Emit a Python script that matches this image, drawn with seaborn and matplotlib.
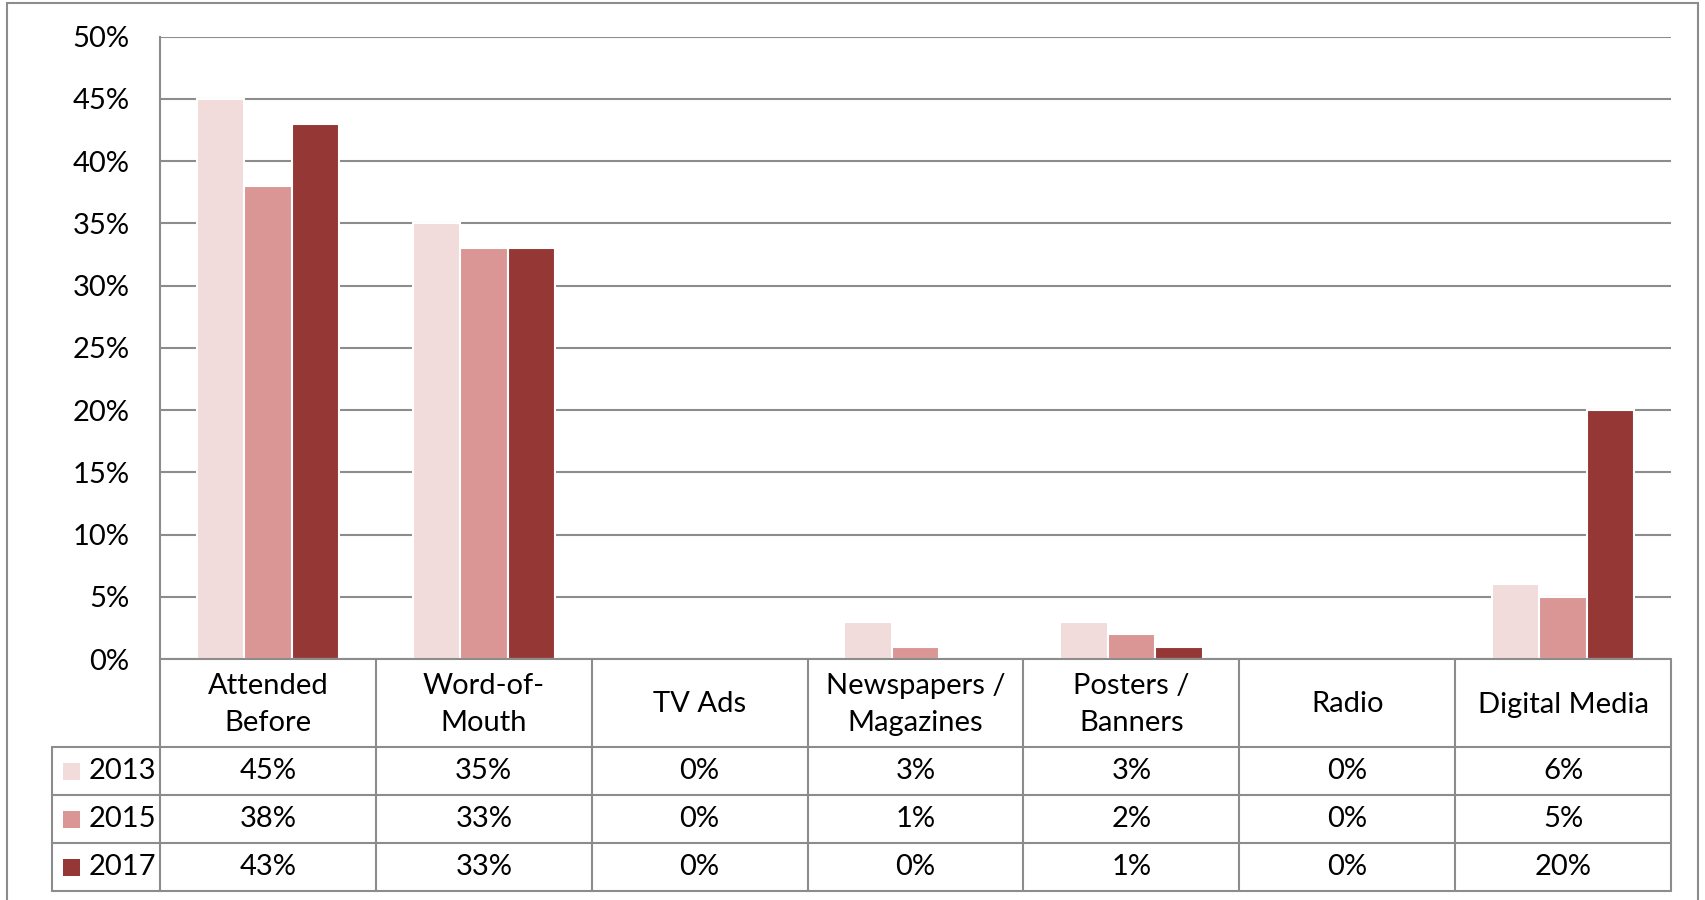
import matplotlib
matplotlib.use("Agg")
import matplotlib.pyplot as plt
import seaborn as sns
import pandas as pd
from matplotlib.transforms import blended_transform_factory
from matplotlib.lines import Line2D
from matplotlib.patches import Rectangle

categories = ["Attended\nBefore", "Word-of-\nMouth", "TV Ads", "Newspapers /\nMagazines",
              "Posters /\nBanners", "Radio", "Digital Media"]
years = ["2013", "2015", "2017"]
values_2013 = [45, 35, 0, 3, 3, 0, 6]
values_2015 = [38, 33, 0, 1, 2, 0, 5]
values_2017 = [43, 33, 0, 0, 1, 0, 20]
colors = ["#F2DCDB", "#D99694", "#953735"]
yticks = [0, 5, 10, 15, 20, 25, 30, 35, 40, 45, 50]

series = {"2013": values_2013, "2015": values_2015, "2017": values_2017}
rows = []
for y in years:
    for c, v in zip(categories, series[y]):
        rows.append({"category": c, "year": y, "value": v / 100})
df = pd.DataFrame(rows)

sns.set_theme(style="white")
plt.rcParams['font.family'] = ['Lato', 'DejaVu Sans']

FS = 21
W, H = 1706, 900
fig = plt.figure(figsize=(W / 100, H / 100), dpi=100)
fig.patch.set_facecolor("white")

left, right, top, bottom = 160, 1671, 36.7, 659
ax = fig.add_axes([left / W, 1 - bottom / H, (right - left) / W, (bottom - top) / H])

sns.barplot(data=df, x="category", y="value", hue="year", palette=colors,
            width=0.66, edgecolor="white", linewidth=1.5, ax=ax, legend=False,
            saturation=1)

ax.set_xlim(-0.5, len(categories) - 0.5)
ax.set_ylim(0, 0.5)
ax.set_yticks([t / 100 for t in yticks])
ax.set_yticklabels([f"{t}%" for t in yticks], fontsize=FS, color="black")
ax.tick_params(axis="y", length=0, pad=22)
ax.set_xticks([])
ax.set_xlabel("")
ax.set_ylabel("")
gridc = "#8C8C8C"
ax.yaxis.grid(True, color=gridc, linewidth=1.5)
ax.set_axisbelow(True)
for s in ["top", "right", "bottom"]:
    ax.spines[s].set_visible(False)
ax.spines["left"].set_color(gridc)
ax.spines["left"].set_linewidth(1.5)

# data table below the axes
tr = blended_transform_factory(ax.transData, fig.transFigure)
def fy(y):
    return 1 - y / H

row_y = [659, 747, 795, 843, 891]
xs_left = -0.5
xs_right = len(categories) - 0.5
leg_left_px = 52
inv = ax.transData.inverted()
leg_left_data = inv.transform((leg_left_px, 0))[0]

lw = 1.5
fig.add_artist(Line2D([xs_left, xs_right], [fy(row_y[0])] * 2, transform=tr, color=gridc, lw=lw))
for yy in row_y[1:]:
    fig.add_artist(Line2D([leg_left_data, xs_right], [fy(yy)] * 2, transform=tr, color=gridc, lw=lw))
for i in range(len(categories) + 1):
    xx = i - 0.5
    fig.add_artist(Line2D([xx, xx], [fy(row_y[0]), fy(row_y[-1])], transform=tr, color=gridc, lw=lw))
fig.add_artist(Line2D([leg_left_data, leg_left_data], [fy(row_y[1]), fy(row_y[-1])], transform=tr, color=gridc, lw=lw))

# header text
hdr_mid = fy((row_y[0] + row_y[1]) / 2 + 1.5)
for i, c in enumerate(categories):
    fig.text(i, hdr_mid, c, transform=tr, ha="center", va="center",
             fontsize=FS, color="black", linespacing=1.55)

# values
for r, y in enumerate(years):
    ymid = fy((row_y[r + 1] + row_y[r + 2]) / 2)
    for i, v in enumerate(series[y]):
        fig.text(i, ymid, f"{v}%", transform=tr, ha="center", va="center",
                 fontsize=FS, color="black")
    fig.add_artist(Rectangle((63 / W, ymid - 8.5 / H), 17 / W, 17 / H,
                             transform=fig.transFigure, facecolor=colors[r], edgecolor="none"))
    fig.text(89 / W, ymid, y, ha="left", va="center", fontsize=FS, color="black")

# outer border
fig.add_artist(Rectangle((7 / W, -0.01), (1698 - 7) / W, 1 - 3 / H + 0.01,
                         transform=fig.transFigure, facecolor="none",
                         edgecolor=gridc, lw=1.5))

fig.savefig("out.png", dpi=100)
